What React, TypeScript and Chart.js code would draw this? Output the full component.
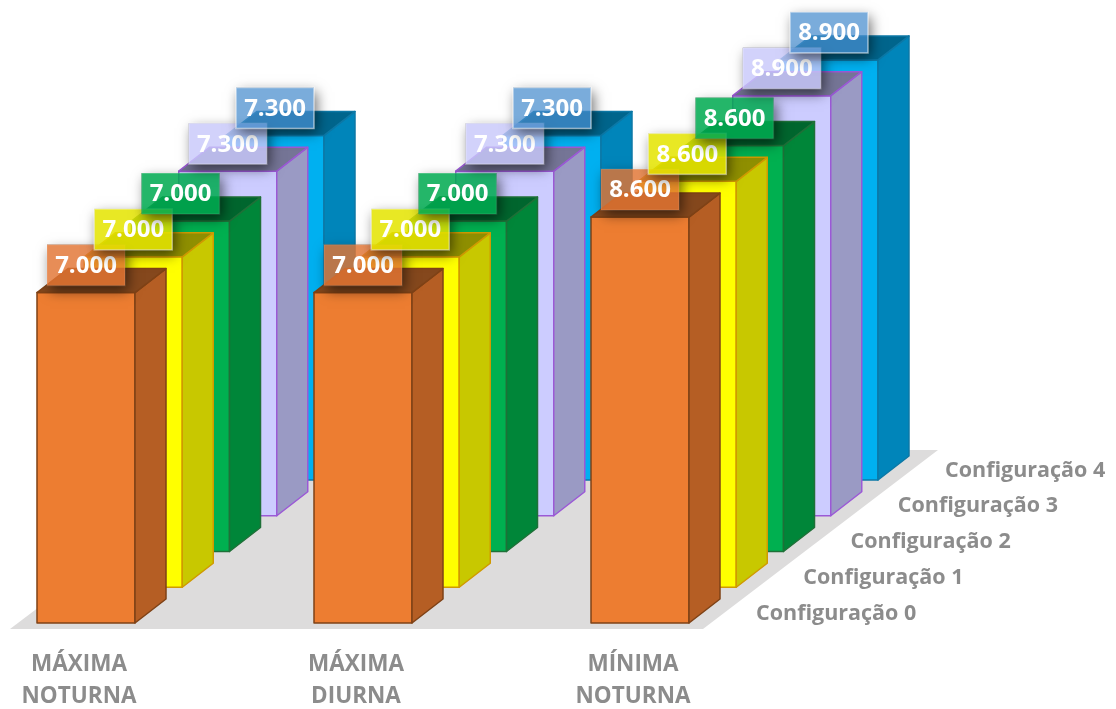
import React, { useEffect, useRef } from "react";
import { Chart, registerables } from "chart.js";

Chart.register(...registerables);

const categories = [["MÁXIMA", "NOTURNA"], ["MÁXIMA", "DIURNA"], ["MÍNIMA", "NOTURNA"]];
const seriesNames = ["Configuração 0", "Configuração 1", "Configuração 2", "Configuração 3", "Configuração 4"];
const config0 = [7000, 7000, 8600];
const config1 = [7000, 7000, 8600];
const config2 = [7000, 7000, 8600];
const config3 = [7300, 7300, 8900];
const config4 = [7300, 7300, 8900];

const frontColors = ["#ED7D31", "#FFFF00", "#00B050", "#CCCCFF", "#00B0F0"];
const sideColors = ["#B55E24", "#C8C800", "#008639", "#9A9AC4", "#0085BA"];
const topColors = ["#85481D", "#8F8F00", "#00662E", "#757596", "#00658C"];
const edgeColors = ["#7F4216", "#D09A00", "#1F7038", "#9B59D6", "#0C78A6"];
const labelColors = [
  "rgba(226,116,50,0.82)",
  "rgba(228,228,0,0.86)",
  "rgba(0,170,80,0.86)",
  "rgba(200,200,250,0.82)",
  "rgba(70,140,205,0.72)",
];
const labelBorders = [
  "rgba(255,255,255,0.1)",
  "rgba(255,255,255,0.45)",
  "rgba(255,255,255,0.1)",
  "rgba(255,255,255,0.3)",
  "rgba(255,255,255,0.55)",
];

const STEP_X = 47.25;
const STEP_Y = 35.75;
const DEPTH_X = 31;
const DEPTH_Y = 24;
const BAR_WIDTH = 98;
const LABEL_W = 78;
const LABEL_H = 41;
const TEXT_FONT = '700 24px "Open Sans"';
const AXIS_FONT = '700 21.5px "Open Sans"';
const AXIS_GRAY = "#8C8C8C";

function poly(ctx: CanvasRenderingContext2D, pts: number[][], fill: string, edge: string) {
  ctx.beginPath();
  pts.forEach(([x, y], i) => (i ? ctx.lineTo(x, y) : ctx.moveTo(x, y)));
  ctx.closePath();
  ctx.fillStyle = fill;
  ctx.fill();
  ctx.strokeStyle = edge;
  ctx.lineWidth = 1.5;
  ctx.stroke();
}

// Draws the depth-shifted prisms, floor, value tags and series names from the bar elements.
const prismPlugin = {
  id: "prism",
  beforeDatasetsDraw(chart: any) {
    const { ctx } = chart;
    const meta = chart.getDatasetMeta(0);
    const first = meta.data[0].getProps(["x", "base", "width"], true);
    const last = meta.data[meta.data.length - 1].getProps(["x", "base", "width"], true);
    const floorY = first.base + 6;
    const backShift = 5 * STEP_X;
    ctx.save();
    ctx.fillStyle = "#DDDCDC";
    ctx.beginPath();
    ctx.moveTo(first.x - first.width / 2 - 27, floorY);
    ctx.lineTo(last.x + last.width / 2 + 14, floorY);
    ctx.lineTo(last.x + last.width / 2 + 14 + 235, floorY - 179);
    ctx.lineTo(first.x - first.width / 2 - 27 + backShift, floorY - 179);
    ctx.closePath();
    ctx.fill();
    ctx.restore();
  },
  beforeDatasetDraw(chart: any, args: any) {
    const { ctx } = chart;
    const i = args.index;
    const meta = chart.getDatasetMeta(i);
    ctx.save();
    ctx.lineJoin = "round";
    meta.data.forEach((bar: any) => {
      const { x, y, base, width } = bar.getProps(["x", "y", "base", "width"], true);
      const l = x - width / 2 + i * STEP_X;
      const r = x + width / 2 + i * STEP_X;
      const t = y - i * STEP_Y;
      const b = base - i * STEP_Y;
      poly(ctx, [[l, t], [r, t], [r, b], [l, b]], frontColors[i], edgeColors[i]);
      poly(ctx, [[r, t], [r + DEPTH_X, t - DEPTH_Y], [r + DEPTH_X, b - DEPTH_Y], [r, b]], sideColors[i], edgeColors[i]);
      poly(ctx, [[l, t], [l + DEPTH_X, t - DEPTH_Y], [r + DEPTH_X, t - DEPTH_Y], [r, t]], topColors[i], edgeColors[i]);
    });
    ctx.restore();
    return false;
  },
  afterDatasetsDraw(chart: any) {
    const { ctx } = chart;
    const count = chart.data.datasets.length;
    const groups = chart.data.labels.length;
    ctx.save();
    ctx.textAlign = "center";
    ctx.textBaseline = "middle";
    for (let g = 0; g < groups; g++) {
      for (let i = 0; i < count; i++) {
        const bar = chart.getDatasetMeta(i).data[g];
        const { x, y } = bar.getProps(["x", "y"], true);
        const cx = x + i * STEP_X;
        const cy = y - i * STEP_Y - 27.5;
        const left = cx - LABEL_W / 2;
        const top = cy - LABEL_H / 2;

        // Soft shadow kept outside the tag so the translucent fill stays clean.
        ctx.save();
        ctx.beginPath();
        ctx.rect(0, 0, chart.width, chart.height);
        ctx.rect(left, top, LABEL_W, LABEL_H);
        ctx.clip("evenodd");
        ctx.shadowColor = "rgba(0,0,0,0.55)";
        ctx.shadowBlur = 12;
        ctx.shadowOffsetX = 3;
        ctx.shadowOffsetY = 5;
        ctx.fillStyle = "#000";
        ctx.fillRect(left, top, LABEL_W, LABEL_H);
        ctx.restore();

        ctx.fillStyle = labelColors[i];
        ctx.fillRect(left, top, LABEL_W, LABEL_H);
        ctx.strokeStyle = labelBorders[i];
        ctx.lineWidth = 1.5;
        ctx.strokeRect(left, top, LABEL_W, LABEL_H);

        const value = chart.data.datasets[i].data[g] as number;
        const text = `${Math.floor(value / 1000)}.${String(value % 1000).padStart(3, "0")}`;
        ctx.fillStyle = "#FFFFFF";
        ctx.font = TEXT_FONT;
        ctx.fillText(text, cx, cy + 1);
      }
    }

    // Series names run along the depth axis beside the last group.
    ctx.textAlign = "left";
    ctx.fillStyle = AXIS_GRAY;
    ctx.font = AXIS_FONT;
    for (let i = 0; i < count; i++) {
      const bar = chart.getDatasetMeta(i).data[groups - 1];
      const { x, base, width } = bar.getProps(["x", "base", "width"], true);
      ctx.fillText(chart.data.datasets[i].label, x + width / 2 + 67 + i * STEP_X, base - 9.5 - i * STEP_Y);
    }
    ctx.restore();
  },
};

export default function App() {
  const canvasRef = useRef<HTMLCanvasElement>(null);

  useEffect(() => {
    const series = [config0, config1, config2, config3, config4];
    const chart = new Chart(canvasRef.current!, {
      type: "bar",
      data: {
        labels: categories as any,
        datasets: series.map((data, i) => ({
          label: seriesNames[i],
          data,
          backgroundColor: frontColors[i],
          grouped: false,
          barThickness: BAR_WIDTH,
        })),
      },
      options: {
        responsive: false,
        animation: false,
        layout: { padding: { left: 86, right: 476, top: 0, bottom: 0 } },
        plugins: { legend: { display: false }, tooltip: { enabled: false } },
        scales: {
          x: {
            offset: false,
            grid: { display: false, drawTicks: false },
            border: { display: false },
            afterFit: (scale: any) => {
              scale.height = 86;
            },
            ticks: {
              autoSkip: false,
              maxRotation: 0,
              padding: 26,
              labelOffset: -7,
              color: AXIS_GRAY,
              font: { family: "Open Sans", size: 22.5, weight: 700, lineHeight: 1.42 },
            },
          },
          y: { display: false, min: 0, max: 13200 },
        },
      },
      plugins: [prismPlugin],
    } as any);
    return () => chart.destroy();
  }, []);

  return (
    <div style={{ position: "absolute", left: 0, top: 0, background: "#fff" }}>
      <canvas ref={canvasRef} width={1116} height={709} style={{ display: "block" }} />
    </div>
  );
}
